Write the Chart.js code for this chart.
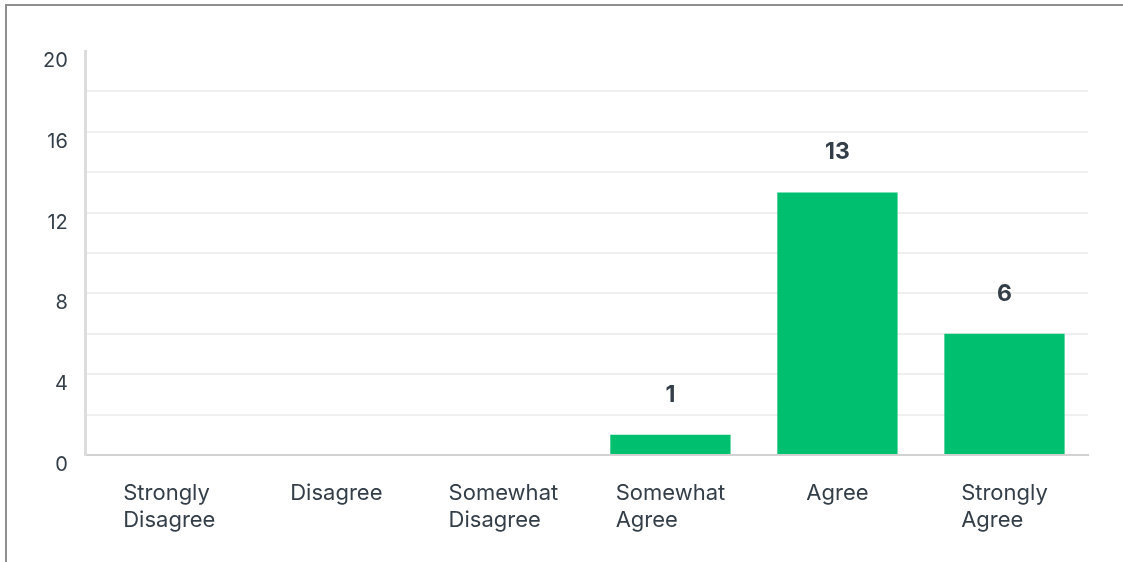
<!DOCTYPE html>
<html>
<head>
<meta charset="utf-8">
<script src="https://cdn.jsdelivr.net/npm/chart.js@4.4.1/dist/chart.umd.min.js"></script>
<style>
  html, body { margin: 0; padding: 0; background: #fff; }
  .frame {
    position: absolute; left: 5px; top: 4px; right: 0; bottom: 0;
    border-top: 2px solid #8f8f8f; border-left: 2px solid #8f8f8f;
  }
  .wrap { position: absolute; left: 0; top: 0; width: 1123px; height: 562px; }
</style>
</head>
<body>
<div class="frame"></div>
<div class="wrap"><canvas id="grafico" width="1123" height="562"></canvas></div>
<script>
// respostas da escala de concordância
var categorias = [
    ['Strongly', 'Disagree'],
    ['Disagree'],
    ['Somewhat', 'Disagree'],
    ['Somewhat', 'Agree'],
    ['Agree'],
    ['Strongly', 'Agree']
];
var respostas = [0, 0, 0, 1, 13, 6];
var marcasY = [0, 4, 8, 12, 16, 20];

var corTexto = '#333e48';
var fonte = 'Inter';

// valores em negrito acima das barras
var rotulosValor = {
    id: 'rotulosValor',
    afterDatasetsDraw: function (chart) {
        var ctx = chart.ctx;
        var meta = chart.getDatasetMeta(0);
        ctx.save();
        ctx.fillStyle = corTexto;
        ctx.font = 'bold 23px ' + fonte;
        ctx.textAlign = 'center';
        ctx.textBaseline = 'middle';
        meta.data.forEach(function (barra, i) {
            if (!respostas[i]) return;
            ctx.fillText(String(respostas[i]), barra.x, barra.y - 40);
        });
        ctx.restore();
    }
};

// rótulos do eixo x: linhas alinhadas à esquerda, bloco centrado na categoria
var rotulosX = {
    id: 'rotulosX',
    afterDraw: function (chart) {
        var ctx = chart.ctx;
        var escala = chart.scales.x;
        ctx.save();
        ctx.fillStyle = corTexto;
        ctx.font = '22px ' + fonte;
        ctx.textAlign = 'left';
        ctx.textBaseline = 'middle';
        categorias.forEach(function (linhas, i) {
            var largura = 0;
            linhas.forEach(function (l) { largura = Math.max(largura, ctx.measureText(l).width); });
            var x = escala.getPixelForTick(i) - largura / 2;
            linhas.forEach(function (l, j) {
                ctx.fillText(l, x, chart.chartArea.bottom + 38 + j * 27);
            });
        });
        ctx.restore();
    }
};

var ctx = document.getElementById('grafico').getContext('2d');
new Chart(ctx, {
    type: 'bar',
    data: {
        labels: categorias,
        datasets: [{
            data: respostas,
            backgroundColor: '#00bf6f',
            borderWidth: 0,
            categoryPercentage: 1,
            barPercentage: 0.72
        }]
    },
    options: {
        responsive: false,
        animation: false,
        layout: { padding: { left: 25, right: 35, top: 51, bottom: 99 } },
        plugins: {
            legend: { display: false },
            tooltip: { enabled: false }
        },
        scales: {
            x: {
                grid: { display: false },
                border: { display: true, color: '#d2d2d2', width: 2 },
                ticks: { display: false }
            },
            y: {
                min: 0,
                max: 20,
                grid: {
                    drawTicks: false,
                    lineWidth: 2,
                    color: function (c) {
                        return c.tick && c.tick.value === 20 ? 'rgba(0,0,0,0)' : '#efefef';
                    }
                },
                border: { display: true, color: '#dcdcdc', width: 3 },
                ticks: {
                    stepSize: 2,
                    padding: 18,
                    labelOffset: 10,
                    color: corTexto,
                    font: { family: fonte, size: 20 },
                    callback: function (v) {
                        return marcasY.indexOf(v) >= 0 ? v : '';
                    }
                }
            }
        }
    },
    plugins: [rotulosValor, rotulosX]
});
</script>
</body>
</html>
